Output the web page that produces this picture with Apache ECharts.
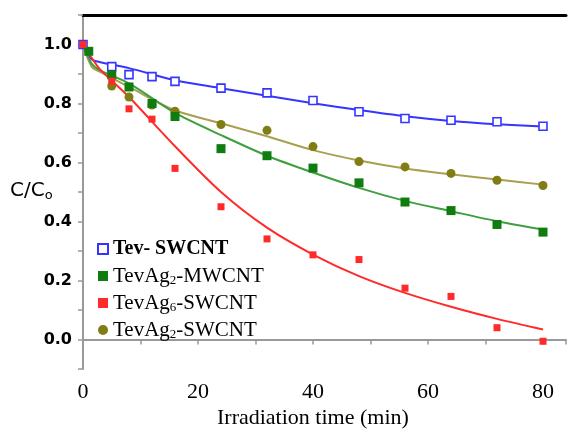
<!DOCTYPE html>
<html>
<head>
<meta charset="utf-8">
<script src="https://cdn.jsdelivr.net/npm/echarts@6/dist/echarts.min.js"></script>
<style>html,body{margin:0;padding:0;background:#fff}#c{width:569px;height:431px}</style>
</head>
<body>
<div id="c"></div>
<script>
// Measured data points
const blueT  = [0, 5, 8, 12, 16, 24, 32, 40, 48, 56, 64, 72, 80];
const blueV  = [1.0, 0.925, 0.898, 0.891, 0.875, 0.852, 0.836, 0.810, 0.772, 0.749, 0.743, 0.738, 0.723];
const greenT = [1, 5, 8, 12, 16, 24, 32, 40, 48, 56, 64, 72, 80];
const greenV = [0.977, 0.897, 0.856, 0.800, 0.756, 0.647, 0.623, 0.581, 0.531, 0.466, 0.437, 0.390, 0.364];
const redT   = [0, 5, 8, 12, 16, 24, 32, 40, 48, 56, 64, 72, 80];
const redV   = [1.0, 0.876, 0.782, 0.747, 0.580, 0.450, 0.341, 0.287, 0.271, 0.174, 0.146, 0.040, -0.006];
const oliveT = [5, 8, 12, 16, 24, 32, 40, 48, 56, 64, 72, 80];
const oliveV = [0.859, 0.822, 0.795, 0.774, 0.729, 0.709, 0.654, 0.603, 0.585, 0.563, 0.540, 0.522];

// Fitted curves
const fitT     = [0, 1.5, 3, 8, 16, 24, 32, 40, 48, 56, 64, 72, 80];
const blueFit  = [1.0, 0.950, 0.940, 0.920, 0.879, 0.852, 0.826, 0.801, 0.778, 0.757, 0.741, 0.730, 0.722];
const greenFit = [1.0, 0.935, 0.912, 0.868, 0.768, 0.693, 0.623, 0.566, 0.514, 0.470, 0.435, 0.401, 0.373];
const oliveFit = [1.0, 0.925, 0.907, 0.856, 0.777, 0.733, 0.689, 0.642, 0.607, 0.580, 0.560, 0.542, 0.525];
const redFit   = [1.0, 0.955, 0.915, 0.822, 0.655, 0.500, 0.379, 0.288, 0.215, 0.158, 0.111, 0.070, 0.034];

const names = ['Tev- SWCNT', 'TevAg2-MWCNT', 'TevAg6-SWCNT', 'TevAg2-SWCNT'];
const xLabels = [0, 20, 40, 60, 80];

const zip = (a, b) => a.map((v, i) => [v, b[i]]);

const C = {
  blue: '#3535ff', greenLine: '#3f9f3f', greenMark: '#0e7c0e',
  red: '#ff2b2b', oliveLine: '#a8a050', oliveMark: '#827c14'
};

function fitLine(data, color) {
  return { type: 'line', data: zip(fitT, data), smooth: 0.3, showSymbol: false, symbol: 'none',
    lineStyle: { color: color, width: 2 }, silent: true, z: 2 };
}

const chart = echarts.init(document.getElementById('c'));
const serifFont = '"Liberation Serif", "Times New Roman", serif';
chart.setOption({
  animation: false,
  grid: { left: 83, top: 15, right: 0, bottom: 62 },
  xAxis: [{
    type: 'value', min: 0, max: 84, interval: 10,
    axisLine: { lineStyle: { color: '#999', width: 2 } },
    axisTick: { inside: false, length: 5, lineStyle: { color: '#999', width: 1.5 } },
    splitLine: { show: false },
    axisLabel: { margin: 12, fontFamily: serifFont, fontSize: 22, color: '#000',
      formatter: v => xLabels.indexOf(Math.round(v)) >= 0 && Math.abs(v - Math.round(v)) < 1e-6 ? String(Math.round(v)) : '' }
  }, {
    type: 'value', position: 'top', min: 0, max: 84,
    axisLine: { show: true, onZero: false, lineStyle: { color: '#000', width: 3 } },
    axisTick: { show: false }, axisLabel: { show: false }, splitLine: { show: false }
  }],
  yAxis: {
    type: 'value', min: -0.1, max: 1.1, interval: 0.1,
    axisLine: { show: true, lineStyle: { color: '#999', width: 2 } },
    axisTick: { show: true, length: 5, lineStyle: { color: '#999', width: 1.5 } },
    splitLine: { show: false },
    axisLabel: { margin: 11, fontFamily: '"DejaVu Sans", sans-serif', fontWeight: 'bold', fontSize: 16, color: '#000',
      formatter: v => { const k = Math.round(v * 10); return (k % 2 === 0) ? (k / 10).toFixed(1) : ''; } }
  },
  legend: {
    orient: 'vertical', left: 92, top: 233, itemGap: 5, itemWidth: 10, itemHeight: 10,
    textStyle: { fontFamily: serifFont, fontSize: 21, color: '#000', lineHeight: 22,
      rich: {
        n: { fontFamily: serifFont, fontSize: 21, color: '#000', lineHeight: 22 },
        b: { fontFamily: serifFont, fontSize: 20, fontWeight: 'bold', color: '#000', lineHeight: 22 },
        s: { fontFamily: serifFont, fontSize: 13, color: '#000', lineHeight: 10, verticalAlign: 'bottom' }
      } },
    formatter: name => {
      if (name === names[0]) return '{b|' + name + '}';
      const m = name.match(/^(.*Ag)(\d)(.*)$/);
      return '{n|' + m[1] + '}{s|' + m[2] + '}{n|' + m[3] + '}';
    },
    data: names
  },
  graphic: [
    { type: 'text', left: 10, top: 181, style: { rich: {
        a: { fontFamily: '"DejaVu Sans", sans-serif', fontSize: 20, fill: '#000', lineHeight: 22 },
        o: { fontFamily: '"DejaVu Sans", sans-serif', fontSize: 13, fill: '#000', lineHeight: 10, verticalAlign: 'bottom' } },
      text: '{a|C/C}{o|o}' } },
    { type: 'text', left: 217, top: 407, style: { text: 'Irradiation time (min)', font: '22px "Liberation Serif", serif', fill: '#000' } }
  ],
  series: [
    fitLine(blueFit, C.blue),
    fitLine(oliveFit, C.oliveLine),
    fitLine(greenFit, C.greenLine),
    fitLine(redFit, C.red),
    { name: names[0], type: 'scatter', data: zip(blueT, blueV), symbol: 'rect', symbolSize: 8,
      itemStyle: { color: '#fff', borderColor: C.blue, borderWidth: 1.6, opacity: 1 }, z: 4 },
    { name: names[3], type: 'scatter', data: zip(oliveT, oliveV), symbol: 'circle', symbolSize: 9,
      itemStyle: { color: C.oliveMark, opacity: 1 }, z: 3 },
    { name: names[1], type: 'scatter', data: zip(greenT, greenV), symbol: 'rect', symbolSize: 9,
      itemStyle: { color: C.greenMark, opacity: 1 }, z: 4 },
    { name: names[2], type: 'scatter', data: zip(redT, redV), symbol: 'rect', symbolSize: 7,
      itemStyle: { color: C.red, opacity: 1 }, z: 4 }
  ]
});
</script>
</body>
</html>
